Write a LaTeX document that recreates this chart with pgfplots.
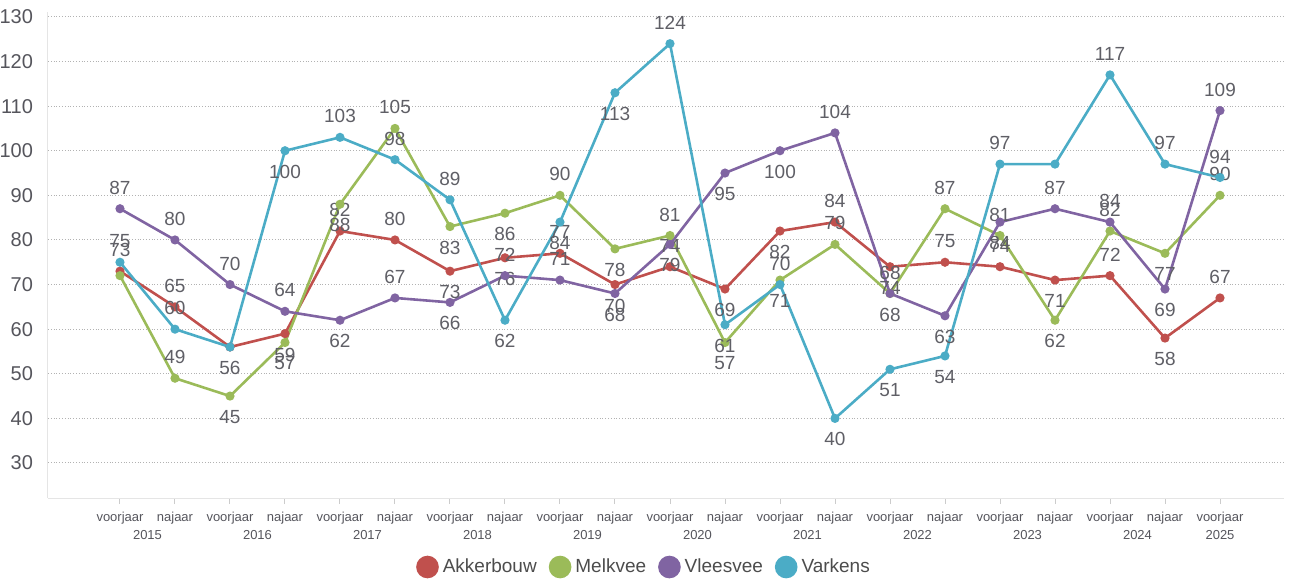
\documentclass[border=0pt]{standalone}
\usepackage{fontspec}
\setmainfont{Liberation Sans}
\usepackage{pgfplots}
\usepackage{pgfplotstable}
\pgfplotsset{compat=1.18}
\definecolor{akker}{RGB}{192,80,77}
\definecolor{melk}{RGB}{155,187,89}
\definecolor{vlees}{RGB}{128,100,162}
\definecolor{vark}{RGB}{75,172,198}
\definecolor{labc}{RGB}{95,95,102}
\definecolor{tickc}{RGB}{85,85,92}

% x  y  d (label: 1 above, -1 below, 0 hidden)
\pgfplotstableread{
x y d
0 73 1
1 65 1
2 56 -1
3 59 -1
4 82 1
5 80 1
6 73 -1
7 76 -1
8 77 1
9 70 -1
10 74 1
11 69 -1
12 82 -1
13 84 1
14 74 -1
15 75 1
16 74 1
17 71 -1
18 72 1
19 58 -1
20 67 1
}\akkerbouw

\pgfplotstableread{
x y d
0 72 0
1 49 1
2 45 -1
3 57 -1
4 88 -1
5 105 1
6 83 -1
7 86 -1
8 90 1
9 78 -1
10 81 1
11 57 -1
12 71 -1
13 79 1
14 68 1
15 87 1
16 81 1
17 62 -1
18 82 1
19 77 -1
20 90 1
}\melkvee

\pgfplotstableread{
x y d
0 87 1
1 80 1
2 70 1
3 64 1
4 62 -1
5 67 1
6 66 -1
7 72 1
8 71 1
9 68 -1
10 79 -1
11 95 -1
12 100 -1
13 104 1
14 68 -1
15 63 -1
16 84 -1
17 87 1
18 84 1
19 69 -1
20 109 1
}\vleesvee

\pgfplotstableread{
x y d
0 75 1
1 60 1
2 56 0
3 100 -1
4 103 1
5 98 1
6 89 1
7 62 -1
8 84 -1
9 113 -1
10 124 1
11 61 -1
12 70 1
13 40 -1
14 51 -1
15 54 -1
16 97 1
17 97 0
18 117 1
19 97 1
20 94 1
}\varkens

\begin{document}
\begin{tikzpicture}
\useasboundingbox (-24pt,-40.5pt) rectangle (622.5pt,249pt);
\begin{axis}[
  at={(0,0)}, anchor=south west,
  scale only axis, width=618pt, height=243pt,
  xmin=-1.309, xmax=21.164,
  ymin=22.15, ymax=131.1,
  /pgf/number format/assume math mode=true,
  axis x line*=bottom, axis y line*=left,
  axis line style={draw=black!10, line width=0.5pt},
  ytick={30,40,...,130},
  ymajorgrids,
  grid style={densely dotted, draw=black!30, line width=0.5pt},
  y tick style={draw=none},
  y tick label style={font=\fontsize{10}{11}\selectfont, text=tickc, xshift=-1pt},
  xtick={0,...,20},
  xticklabels={voorjaar,najaar,voorjaar,najaar,voorjaar,najaar,voorjaar,najaar,voorjaar,najaar,voorjaar,najaar,voorjaar,najaar,voorjaar,najaar,voorjaar,najaar,voorjaar,najaar,voorjaar},
  x tick style={draw=black!20, line width=0.5pt},
  tick align=outside,
  major tick length=3pt,
  x tick label style={font=\fontsize{6.5}{7}\selectfont, text=tickc, yshift=-0.5pt},
  extra x ticks={0.5,2.5,4.5,6.5,8.5,10.5,12.5,14.5,16.5,18.5,20},
  extra x tick labels={2015,2016,2017,2018,2019,2020,2021,2022,2023,2024,2025},
  extra x tick style={major tick length=0pt, grid=none, x tick label style={yshift=-12pt}},
  clip=false,
  every axis plot/.append style={line width=1.3pt, mark=*, mark size=1.6pt},
  visualization depends on={\thisrow{d} \as \ld},
  visualization depends on={abs(\thisrow{d}) \as \lvis},
  nodes near coords,
  every node near coord/.style={anchor=center, yshift=\ld*10.5pt, text opacity=\lvis, text=labc, font=\fontsize{9.5}{11}\selectfont, inner sep=0pt},
  legend style={at={(0.483,-0.142)}, anchor=center, draw=none, fill=none,
    legend columns=-1, font=\fontsize{9.5}{11}\selectfont, text=black!70,
    /tikz/every even column/.append style={column sep=4pt}},
  legend image code/.code={\fill[#1] (3pt,0pt) circle (5pt);},
]
\addplot[color=akker, mark options={fill=akker}] table[x=x, y=y] {\akkerbouw};
\addlegendentry{Akkerbouw}
\addplot[color=melk, mark options={fill=melk}] table[x=x, y=y] {\melkvee};
\addlegendentry{Melkvee}
\addplot[color=vlees, mark options={fill=vlees}] table[x=x, y=y] {\vleesvee};
\addlegendentry{Vleesvee}
\addplot[color=vark, mark options={fill=vark}] table[x=x, y=y] {\varkens};
\addlegendentry{Varkens}
\end{axis}
\end{tikzpicture}
\end{document}
